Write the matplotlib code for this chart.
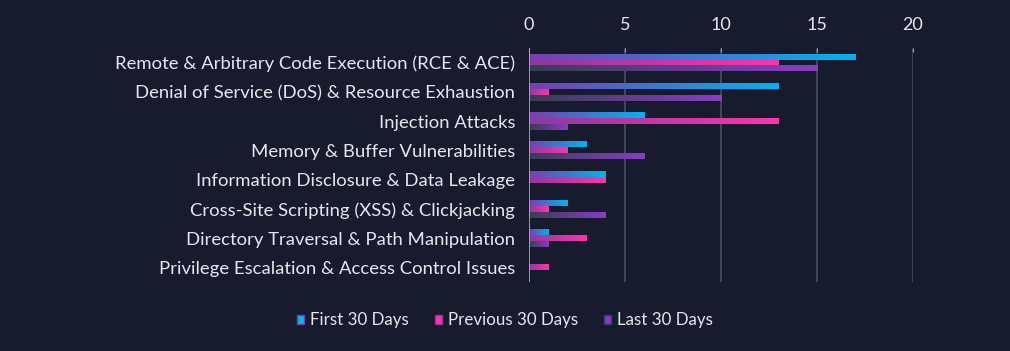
import numpy as np
import matplotlib.pyplot as plt
from matplotlib.colors import LinearSegmentedColormap
from matplotlib.patches import Patch

categories = [
    'Remote & Arbitrary Code Execution (RCE & ACE)',
    'Denial of Service (DoS) & Resource Exhaustion',
    'Injection Attacks',
    'Memory & Buffer Vulnerabilities',
    'Information Disclosure & Data Leakage',
    'Cross-Site Scripting (XSS) & Clickjacking',
    'Directory Traversal & Path Manipulation',
    'Privilege Escalation & Access Control Issues',
]
first_30 = [17, 13, 6, 3, 4, 2, 1, 0]
previous_30 = [13, 1, 13, 2, 4, 1, 3, 1]
last_30 = [15, 10, 2, 6, 0, 4, 1, 0]
series_names = ['First 30 Days', 'Previous 30 Days', 'Last 30 Days']

BG = '#181b2e'
TEXT = '#e6e6ee'
gradients = [
    ('#7a3db0', '#00b4f0'),
    ('#8a3aa0', '#ff34ac'),
    ('#363f52', '#8a3cc8'),
]

plt.rcParams['font.family'] = ['Lato', 'DejaVu Sans']

fig = plt.figure(figsize=(10.1, 3.51), dpi=100, facecolor=BG)
ax = fig.add_axes([0.5238, 0.1966, 0.3802, 0.6666], facecolor=BG)

n = len(categories)
y = np.arange(n)
bar_h = 0.2
offsets = [-bar_h, 0, bar_h]
grad = np.linspace(0, 1, 256).reshape(1, -1)

for series, off, (c0, c1) in zip([first_30, previous_30, last_30], offsets, gradients):
    cmap = LinearSegmentedColormap.from_list('g', [c0, c1])
    for yi, v in zip(y, series):
        if v <= 0:
            continue
        ax.imshow(grad, cmap=cmap, aspect='auto', interpolation='bilinear',
                  extent=(0, v, yi + off + bar_h / 2, yi + off - bar_h / 2), zorder=3)

ax.set_xlim(0, 20)
ax.set_ylim(n - 0.5, -0.5)
ax.set_yticks(y)
ax.set_yticklabels(categories, color=TEXT, fontsize=13.3)
ax.set_xticks([0, 5, 10, 15, 20])
ax.xaxis.tick_top()
ax.tick_params(axis='x', colors='#9a9aaa', labelcolor=TEXT, labelsize=13,
               length=3, direction='in', pad=11)
ax.tick_params(axis='y', length=0, pad=10)
for s in ax.spines.values():
    s.set_visible(False)
for xv in [5, 10, 15, 20]:
    ax.axvline(xv, color='#4a4e62', linewidth=1.2, zorder=1)
ax.axvline(0, color='#b0b0bc', linewidth=1.2, zorder=4)

# legend with small square markers
handles = [Patch(facecolor=c1, edgecolor=c0, label=nm) for nm, (c0, c1) in zip(series_names, gradients)]
fig.legend(handles=handles, loc='center', bbox_to_anchor=(0.5, 0.088), ncol=3, frameon=False,
           fontsize=12.2, labelcolor=TEXT, handlelength=0.45, handleheight=0.45,
           handletextpad=0.35, columnspacing=1.5)

fig.savefig('out.png', facecolor=BG)
